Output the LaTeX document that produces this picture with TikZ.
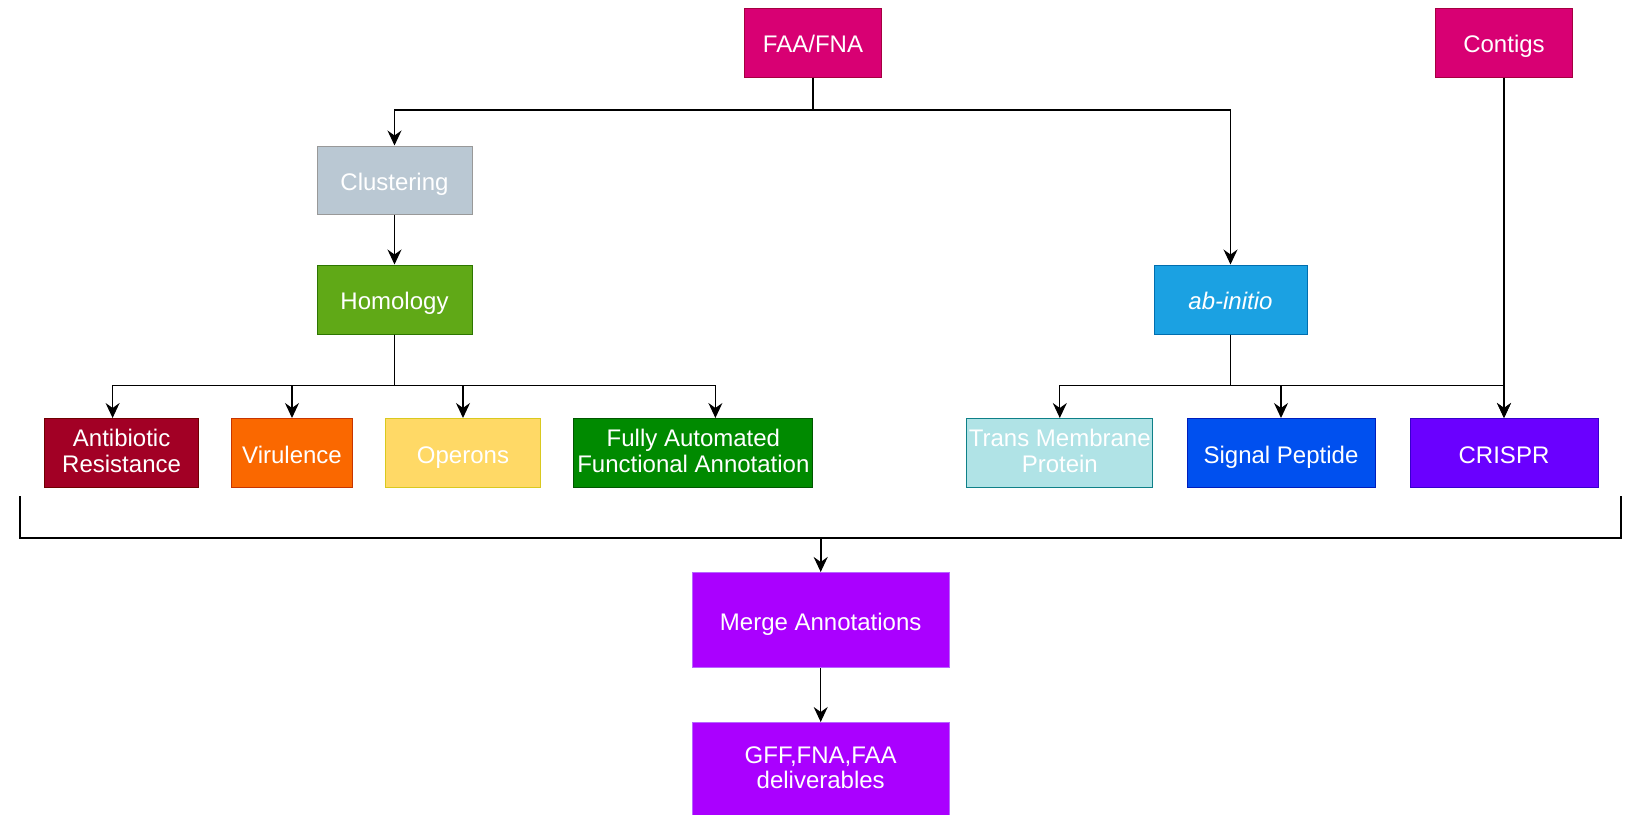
\documentclass[tikz,border=0pt]{standalone}
\usepackage{fontspec}
\setmainfont{Liberation Sans}
\usepackage{tikz}
\usetikzlibrary{arrows.meta}

\definecolor{inpfill}{HTML}{D80073}
\definecolor{inpline}{HTML}{A50040}
\definecolor{clusfill}{HTML}{BAC8D3}
\definecolor{clusline}{HTML}{999999}
\definecolor{homfill}{HTML}{60A917}
\definecolor{homline}{HTML}{2D7600}
\definecolor{abfill}{HTML}{1BA1E2}
\definecolor{abline}{HTML}{006EAF}
\definecolor{antifill}{HTML}{A20025}
\definecolor{antiline}{HTML}{6F0000}
\definecolor{virfill}{HTML}{FA6800}
\definecolor{virline}{HTML}{C73500}
\definecolor{opfill}{HTML}{FFD966}
\definecolor{opline}{HTML}{D9C91F}
\definecolor{autofill}{HTML}{008A00}
\definecolor{autoline}{HTML}{005700}
\definecolor{tmfill}{HTML}{B0E3E6}
\definecolor{tmline}{HTML}{0E8088}
\definecolor{sigfill}{HTML}{0050EF}
\definecolor{sigline}{HTML}{001DBC}
\definecolor{crfill}{HTML}{6A00FF}
\definecolor{crline}{HTML}{3700CC}
\definecolor{mergefill}{HTML}{AA00FF}
\definecolor{mergeline}{HTML}{B866FF}

\tikzset{
	box/.style={draw, line width=0.5pt, text=white, align=center, inner sep=0pt,
		font=\fontsize{12}{12.8}\selectfont,
		execute at begin node=\rule{0pt}{12.5pt},
		execute at end node=\rule[-2.5pt]{0pt}{2.5pt}},
	arrow/.style={line width=0.65pt, -{Stealth[length=7.5pt, width=7pt, inset=2.5pt]}},
	bracket/.style={line width=1.2pt}
}

\begin{document}
\begin{tikzpicture}[x=0.5pt, y=-0.5pt]
	\useasboundingbox (0,0) rectangle (1630,815);
	% inputs
	\node[box, fill=inpfill, draw=inpline, minimum width=68.5pt, minimum height=34.5pt] (faa) at (813,42.5) {FAA/FNA};
	\node[box, fill=inpfill, draw=inpline, minimum width=68.5pt, minimum height=34.5pt] (contigs) at (1504,42.5) {Contigs};
	% second and third rows
	\node[box, fill=clusfill, draw=clusline, minimum width=77.5pt, minimum height=34pt] (clus) at (394.5,180) {Clustering};
	\node[box, fill=homfill, draw=homline, minimum width=77.5pt, minimum height=34.5pt] (hom) at (394.5,299.5) {Homology};
	\node[box, fill=abfill, draw=abline, minimum width=76.5pt, minimum height=34.5pt] (abin) at (1230.5,299.5) {\itshape ab-initio};
	% tools
	\node[box, fill=antifill, draw=antiline, minimum width=77pt, minimum height=34.5pt] (anti) at (121.6,453) {Antibiotic\\Resistance};
	\node[box, fill=virfill, draw=virline, minimum width=60.5pt, minimum height=34.5pt] (vir) at (292,453) {Virulence};
	\node[box, fill=opfill, draw=opline, minimum width=77.5pt, minimum height=34.5pt] (oper) at (463,453) {Operons};
	\node[box, fill=autofill, draw=autoline, minimum width=119.5pt, minimum height=34.5pt] (auto) at (693.4,453) {Fully Automated\\Functional Annotation};
	\node[box, fill=tmfill, draw=tmline, minimum width=93pt, minimum height=34.5pt] (tm) at (1059.8,453) {Trans Membrane\\Protein};
	\node[box, fill=sigfill, draw=sigline, minimum width=94pt, minimum height=34.5pt] (sig) at (1281,453) {Signal Peptide};
	\node[box, fill=crfill, draw=crline, minimum width=94pt, minimum height=34.5pt] (crispr) at (1504,453) {CRISPR};
	% outputs
	\node[box, fill=mergefill, draw=mergeline, minimum width=128.5pt, minimum height=47.5pt] (merge) at (820.7,620) {Merge Annotations};
	\node[box, fill=mergefill, draw=mergeline, minimum width=128.5pt, minimum height=47.5pt] (gff) at (820.7,770) {GFF,FNA,FAA\\deliverables};
	% branch levels
	\coordinate (split1) at (0,110);
	\coordinate (split2) at (0,385.7);
	\coordinate (bl) at (20,496);
	\coordinate (br) at (1621,496);
	\coordinate (bj) at (820.7,538);
	\draw[arrow] (faa.south) -- (faa.south |- split1) -| (clus.north);
	\draw[arrow] (faa.south) -- (faa.south |- split1) -| (abin.north);
	\draw[arrow] (clus) -- (hom);
	\draw[arrow] (hom.south) -- (hom.south |- split2) -| ([xshift=-4.5pt]anti.north);
	\draw[arrow] (hom.south) -- (hom.south |- split2) -| (vir.north);
	\draw[arrow] (hom.south) -- (hom.south |- split2) -| (oper.north);
	\draw[arrow] (hom.south) -- (hom.south |- split2) -| ([xshift=11pt]auto.north);
	\draw[arrow] (abin.south) -- (abin.south |- split2) -| (tm.north);
	\draw[arrow] (abin.south) -- (abin.south |- split2) -| (sig.north);
	\draw[arrow] (abin.south) -- (abin.south |- split2) -| (crispr.north);
	\draw[arrow] (contigs) -- (crispr);
	\draw[bracket] (bl) |- (bj) -| (br);
	\draw[arrow, line width=1.1pt] (bj) -- (merge);
	\draw[arrow] (merge) -- (gff);
\end{tikzpicture}
\end{document}
